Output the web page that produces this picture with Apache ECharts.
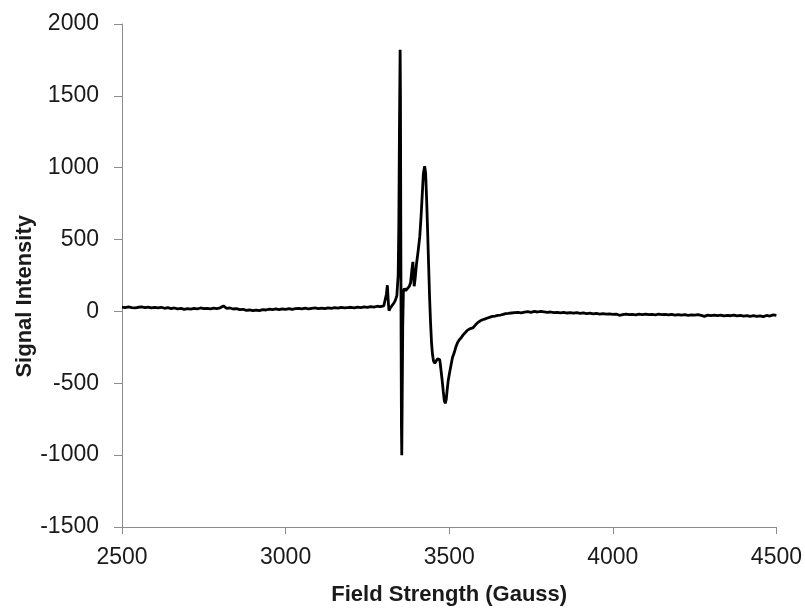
<!DOCTYPE html>
<html>
<head>
<meta charset="utf-8">
<script src="https://cdn.jsdelivr.net/npm/echarts@6/dist/echarts.min.js"></script>
<style>
html,body{margin:0;padding:0;background:#fff;}
#chart{width:805px;height:611px;}
</style>
</head>
<body>
<div id="chart"></div>
<script>
// Field strength (Gauss) sample positions
const fieldGauss = [
2500,2510,2520,2530,2540,2550,2560,2570,2580,2590,
2600,2610,2620,2630,2640,2650,2660,2670,2680,2690,
2700,2710,2720,2730,2740,2750,2760,2770,2780,2790,
2800,2810,2820,2830,2840,2850,2860,2870,2880,2890,
2900,2910,2920,2930,2940,2950,2960,2970,2980,2990,
3000,3010,3020,3030,3040,3050,3060,3070,3080,3090,
3100,3110,3120,3130,3140,3150,3160,3170,3180,3190,
3200,3210,3220,3230,3240,3250,3260,3270,3280,3290,
3300,3305,3308,3311,3314,3316,3319,3325,3330,3335,
3340,3344,3346,3348,3350,3351,3352,3353,3354,3355,
3356,3358,3360,3363,3367,3372,3378,3382,3386,3389,
3391,3393,3396,3400,3405,3410,3414,3418,3421,3425,
3428,3431,3434,3437,3440,3443,3446,3449,3452,3456,
3460,3464,3468,3471,3474,3478,3482,3485,3488,3491,
3494,3497,3500,3505,3510,3515,3520,3525,3530,3536,
3542,3548,3556,3564,3572,3580,3587,3595,3602,3610,
3617,3625,3632,3640,3648,3657,3665,3672,3680,3690,
3700,3710,3720,3730,3740,3750,3760,3770,3780,3790,
3800,3810,3820,3830,3840,3850,3860,3870,3880,3890,
3900,3910,3920,3930,3940,3950,3960,3970,3980,3990,
4000,4010,4020,4030,4040,4050,4060,4070,4080,4090,
4100,4110,4120,4130,4140,4150,4160,4170,4180,4190,
4200,4210,4220,4230,4240,4250,4260,4270,4280,4290,
4300,4310,4320,4330,4340,4350,4360,4370,4380,4390,
4400,4410,4420,4430,4440,4450,4460,4470,4480,4490,
4500
];
// Signal intensity values
const signalIntensity = [
30,26,31,27,24,29,32,27,30,25,
28,24,29,22,26,20,24,18,22,14,
19,16,21,17,24,19,22,17,23,20,
25,38,21,24,17,19,12,15,7,10,
5,9,6,12,10,16,13,18,12,17,
15,20,14,19,22,18,23,17,21,24,
20,23,19,25,21,26,23,28,24,27,
29,25,30,27,31,28,33,30,36,34,
38,45,120,182,60,5,20,40,55,75,
110,250,600,1300,1820,1500,600,-200,-800,-1000,
-700,-100,140,160,145,155,175,200,290,345,
250,175,230,330,420,520,660,830,960,1010,
960,780,560,330,100,-80,-220,-300,-345,-360,
-350,-330,-322,-335,-390,-470,-560,-620,-640,-610,
-540,-480,-440,-380,-320,-290,-250,-220,-200,-185,
-165,-150,-130,-120,-115,-95,-78,-65,-58,-52,
-46,-40,-35,-32,-28,-25,-20,-16,-14,-11,
-9,-7,-10,-5,-2,-6,0,-4,1,-3,
-7,-4,-9,-6,-10,-7,-11,-8,-12,-9,
-13,-10,-15,-12,-17,-14,-18,-15,-19,-17,
-21,-18,-27,-22,-19,-23,-20,-24,-19,-22,
-18,-23,-20,-24,-19,-22,-20,-24,-21,-25,
-22,-26,-23,-27,-24,-26,-23,-28,-34,-26,
-29,-25,-30,-26,-31,-27,-30,-26,-31,-28,
-33,-29,-34,-30,-35,-31,-36,-28,-32,-24,
-27
];
const xTicks = [2500, 3000, 3500, 4000, 4500];
const yTicks = [-1500, -1000, -500, 0, 500, 1000, 1500, 2000];
const xTitle = 'Field Strength (Gauss)';
const yTitle = 'Signal Intensity';

const points = fieldGauss.map((x, i) => [x, signalIntensity[i]]);
const font = "'Liberation Sans', Arial, sans-serif";
const axisGray = '#8c8c8c';
const textColor = '#1a1a1a';

const chart = echarts.init(document.getElementById('chart'), null, {renderer: 'canvas'});
chart.setOption({
  animation: false,
  backgroundColor: '#fff',
  grid: {left: 122, right: 24, top: 24, bottom: 80, containLabel: false},
  xAxis: {
    type: 'value',
    min: xTicks[0], max: xTicks[xTicks.length - 1], interval: 500,
    name: xTitle, nameLocation: 'middle', nameGap: 57,
    nameTextStyle: {fontFamily: font, fontWeight: 'bold', fontSize: 22, color: textColor},
    axisLine: {show: true, onZero: false, lineStyle: {color: axisGray, width: 1}},
    axisTick: {show: true, inside: false, length: 7, lineStyle: {color: axisGray}},
    axisLabel: {fontFamily: font, fontSize: 23, color: textColor, margin: 19,
      formatter: v => String(v)},
    splitLine: {show: false}
  },
  yAxis: {
    type: 'value',
    min: yTicks[0], max: yTicks[yTicks.length - 1], interval: 500,
    axisLine: {show: true, onZero: false, lineStyle: {color: axisGray, width: 1}},
    axisTick: {show: true, inside: false, length: 8, lineStyle: {color: axisGray}},
    axisLabel: {fontFamily: font, fontSize: 23, color: textColor, margin: 23,
      formatter: v => String(v)},
    splitLine: {show: false}
  },
  graphic: [{
    type: 'text',
    left: 14, top: 215,
    rotation: Math.PI / 2,
    style: {text: yTitle, fontFamily: font, fontWeight: 'bold', fontSize: 22, fill: textColor}
  }],
  series: [{
    type: 'line',
    data: points,
    showSymbol: false,
    smooth: false,
    lineStyle: {color: '#000', width: 2.8},
    itemStyle: {color: '#000'}
  }]
});
</script>
</body>
</html>
